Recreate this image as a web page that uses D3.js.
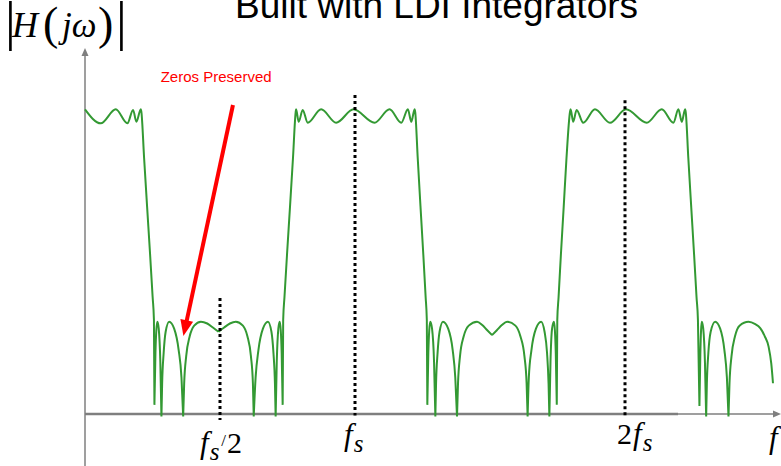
<!DOCTYPE html>
<html><head><meta charset="utf-8">
<script src="https://cdn.jsdelivr.net/npm/d3@7"></script>
<style>body{margin:0;background:#fff;} svg{display:block;}</style>
</head><body><svg id="c" width="781" height="466"></svg>
<script>
// ---------------- data ----------------
const chartTitle = "Built with LDI Integrators";
const annotationText = "Zeros Preserved";
// frequency in units of fs, magnitude normalised to passband peak
const freq = [0.0000,0.0583,0.1139,0.1570,0.1781,0.1904,0.2067,0.2089,0.2189,0.2301,0.2412,0.2505,0.2553,0.2571,
0.2609,0.2642,0.2683,0.2731,0.2790,0.2831,0.2857,0.2913,0.2987,0.3117,0.3302,0.3469,0.3573,0.3636,
0.3673,0.3748,0.3878,0.4045,0.4293,0.4527,0.4750,0.4946,0.5143,0.5366,0.5585,0.5848,0.6015,0.6145,0.6219,0.6249,
0.6319,0.6423,0.6590,0.6776,0.6905,0.6980,0.7035,0.7061,0.7102,0.7161,0.7210,0.7250,0.7284,0.7321,
0.7340,0.7388,0.7481,0.7592,0.7703,0.7803,0.7818,0.7915,0.8063,0.8249,0.8746,0.9302,0.9944,1.0724,1.1280,1.1714,1.1959,1.2085,1.2208,
1.2230,1.2323,1.2427,1.2531,1.2616,1.2660,1.2679,1.2716,1.2750,1.2790,1.2854,1.2928,1.2976,1.3002,1.3058,1.3132,1.3258,1.3451,1.3618,1.3714,1.3778,
1.3815,1.3889,1.4026,1.4212,1.4520,1.4713,1.4898,1.5076,1.5254,1.5440,1.5633,1.5941,1.6126,1.6275,1.6356,1.6393,
1.6438,1.6535,1.6702,1.6894,1.7021,1.7113,1.7169,1.7199,1.7240,1.7299,1.7366,1.7403,1.7436,1.7473,
1.7492,1.7540,1.7625,1.7729,1.7833,1.7963,1.7985,1.8082,1.8208,1.8453,1.8887,1.9444,2.0037,2.0805,2.1362,2.1792,2.1978,2.2104,2.2226,
2.2249,2.2345,2.2453,2.2560,2.2649,2.2701,2.2757,2.2791,2.2817,2.2846,2.2898,2.2961,2.3006,2.3032,2.3087,2.3173,2.3340,2.3525,2.3681,2.3774,2.3833,
2.3870,2.3945,2.4074,2.4242,2.4576,2.4824,2.5009,2.5177,2.5318,2.5418,2.5481];
const mag = [1.000,0.954,1.000,0.954,0.998,0.959,1.000,0.991,0.840,0.679,0.522,0.384,0.309,0.030,
0.200,0.275,0.303,0.280,0.170,-0.008,0.100,0.200,0.270,0.303,0.280,0.210,0.120,-0.008,
0.100,0.190,0.255,0.290,0.303,0.297,0.283,0.270,0.283,0.297,0.303,0.290,0.255,0.190,0.100,-0.008,
0.120,0.210,0.280,0.303,0.270,0.200,0.100,-0.008,0.170,0.280,0.303,0.275,0.200,0.030,
0.309,0.384,0.522,0.679,0.840,0.991,1.000,0.959,0.998,0.956,1.000,0.956,1.000,0.956,1.000,0.956,1.000,0.959,1.000,
0.991,0.840,0.679,0.522,0.384,0.309,0.030,0.200,0.275,0.303,0.280,0.170,-0.008,0.100,0.200,0.270,0.303,0.280,0.210,0.120,-0.008,
0.100,0.190,0.255,0.290,0.303,0.292,0.275,0.259,0.275,0.292,0.303,0.290,0.255,0.190,0.100,-0.008,
0.120,0.210,0.280,0.303,0.270,0.200,0.100,-0.008,0.170,0.280,0.303,0.275,0.200,0.030,
0.309,0.384,0.522,0.679,0.840,0.991,1.000,0.959,0.998,0.956,1.000,0.956,1.000,0.956,1.000,0.956,1.000,0.959,1.000,
0.991,0.840,0.679,0.522,0.384,0.309,0.026,0.200,0.275,0.303,0.280,0.170,-0.008,0.100,0.200,0.270,0.303,0.280,0.210,0.120,-0.008,
0.100,0.190,0.255,0.290,0.303,0.295,0.282,0.255,0.221,0.165,0.101];
const markerFreq = [0.5, 1, 2];
const markerTop = [0.381, 1.047, 1.030];
const markerBottom = [-0.020, -0.005, -0.005];
const tickLabels = ["f_s/2", "f_s", "2f_s", "f"];
const arrowFrom = [0.548, 1.014];
const arrowTo = [0.3645, 0.256];

// ---------------- drawing ----------------
const svg = d3.select("#c");
const x = d3.scaleLinear().domain([0, 2]).range([85, 625]);
const y = d3.scaleLinear().domain([0, 1]).range([414, 109.3]);
const grey = "#7f7f7f";
const green = "#339933";

// title
svg.append("text").attr("x", 436.5).attr("y", 18).attr("text-anchor", "middle")
  .attr("font-family", "'Liberation Sans', Arial, sans-serif").attr("font-size", 37)
  .attr("fill", "#000").text(chartTitle);

// axes
svg.append("line").attr("x1", x(0)).attr("x2", x(0)).attr("y1", 54).attr("y2", 466)
  .attr("stroke", grey).attr("stroke-width", 1.5);
svg.append("path").attr("d", `M${x(0)},48 L${x(0)-3.5},56 L${x(0)+3.5},56 Z`).attr("fill", grey);
svg.append("line").attr("x1", x(0)).attr("x2", 678).attr("y1", y(0)).attr("y2", y(0))
  .attr("stroke", grey).attr("stroke-width", 2.5);
svg.append("line").attr("x1", 678).attr("x2", 776).attr("y1", y(0)).attr("y2", y(0))
  .attr("stroke", grey).attr("stroke-width", 1.5);
svg.append("path").attr("d", `M781,${y(0)} L773,${y(0)-3.5} L773,${y(0)+3.5} Z`).attr("fill", grey);

// curve, split at sharp stop-band minima
const pts = freq.map((f, i) => [f, mag[i]]);
const segs = [];
let cur = [pts[0]];
for (let i = 1; i < pts.length; i++) {
  cur.push(pts[i]);
  if (i < pts.length - 1 && mag[i] < 0.5 && mag[i] <= mag[i-1] && mag[i] <= mag[i+1]) {
    segs.push(cur); cur = [pts[i]];
  }
}
segs.push(cur);
const line = d3.line().x(d => x(d[0])).y(d => y(d[1])).curve(d3.curveMonotoneX);
const curveD = segs.map(s => line(s)).join("");
svg.append("path").attr("d", curveD).attr("fill", "none").attr("stroke", green)
  .attr("stroke-width", 2).attr("stroke-linejoin", "round");

// dotted markers
markerFreq.forEach((f, i) => {
  svg.append("line").attr("x1", x(f)).attr("x2", x(f))
    .attr("y1", y(markerTop[i])).attr("y2", y(markerBottom[i]))
    .attr("stroke", "#000").attr("stroke-width", 3).attr("stroke-dasharray", "3,3");
});

// annotation arrow
const ax0 = x(arrowFrom[0]), ay0 = y(arrowFrom[1]), ax1 = x(arrowTo[0]), ay1 = y(arrowTo[1]);
const len = Math.hypot(ax1 - ax0, ay1 - ay0), ux = (ax1 - ax0) / len, uy = (ay1 - ay0) / len;
const hl = 16, hw = 6.5;
const bx = ax1 - ux * hl, by = ay1 - uy * hl;
svg.append("line").attr("x1", ax0).attr("y1", ay0).attr("x2", bx + ux * 2).attr("y2", by + uy * 2)
  .attr("stroke", "#ff0000").attr("stroke-width", 4);
svg.append("path").attr("d", `M${ax1},${ay1} L${bx - uy*hw},${by + ux*hw} L${bx + uy*hw},${by - ux*hw} Z`)
  .attr("fill", "#ff0000");
svg.append("text").attr("x", 160.7).attr("y", 81.7)
  .attr("font-family", "'Liberation Sans', Arial, sans-serif").attr("font-size", 15)
  .attr("fill", "#ff0000").text(annotationText);

// math text helpers
const serif = "'Liberation Serif', 'Times New Roman', serif";
function mathText(x0, y0, parts) {
  const t = svg.append("text").attr("x", x0).attr("y", y0).attr("font-family", serif).attr("fill", "#000");
  parts.forEach(p => {
    t.append("tspan").attr("font-style", p.it ? "italic" : "normal").attr("font-size", p.size)
      .attr("dx", p.dx || 0).attr("dy", p.dy || 0).text(p.t);
  });
}
// y label |H( jω)|
mathText(5, 38.5, [{t:"|", size:54}]);
mathText(12, 36.7, [{t:"H", it:true, size:36}]);
mathText(43, 39, [{t:"(", size:46}]);
mathText(62, 36.7, [{t:"j", it:true, size:35}, {t:"\u03c9", it:true, size:35, dx:0}]);
mathText(98, 39, [{t:")", size:46}]);
mathText(116, 38.5, [{t:"|", size:54}]);

// x tick labels
function parseLabel(s) { return s.match(/^(2?)(f)(?:_(s))?(\/2)?$/); }
const labelSpecs = [
  {x: 200, y: 452.5}, {x: 344, y: 445}, {x: 617, y: 443.5}, {x: 769, y: 448}
];
tickLabels.forEach((lab, i) => {
  const m = parseLabel(lab), sp = labelSpecs[i];
  const parts = [];
  if (m[1]) parts.push({t: m[1], size: 30});
  parts.push({t: m[2], it: true, size: 31, dx: m[1] ? 1 : 0});
  if (m[3]) parts.push({t: m[3], it: true, size: 25, dx: 1, dy: 7});
  if (m[4]) { parts.push({t: "/", size: 17, dx: 2, dy: -14}); parts.push({t: "2", size: 30, dx: 1, dy: 7}); }
  mathText(sp.x, sp.y, parts);
});
</script>
</body></html>
